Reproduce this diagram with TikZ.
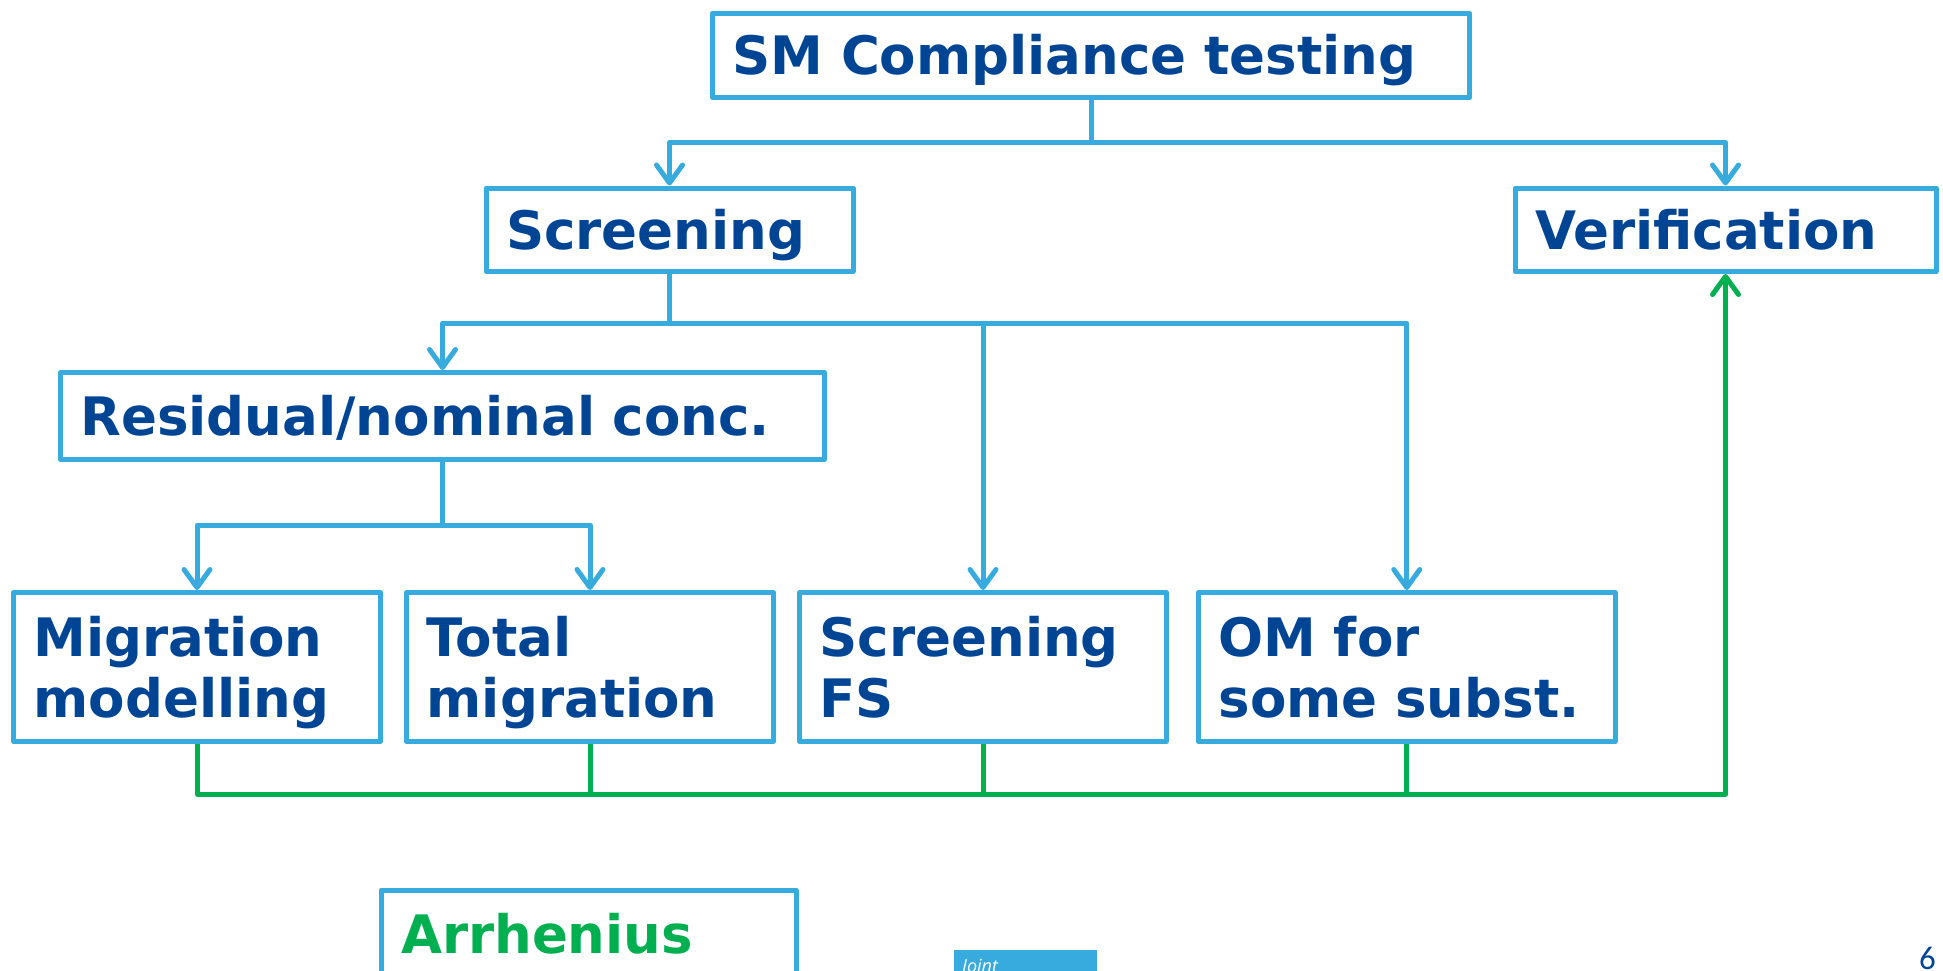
\documentclass[tikz,border=0pt]{standalone}
\usepackage{fontspec}
\setmainfont{DejaVu Sans}
\newfontfamily\numfont{Carlito}
\newfontfamily\jointfont{Open Sans}
\usetikzlibrary{arrows.meta}
\definecolor{boxblue}{HTML}{38ABDE}
\definecolor{textblue}{HTML}{004494}
\definecolor{flowgreen}{HTML}{00B050}
\begin{document}
\begin{tikzpicture}[x=1pt,y=-1pt,
  box/.style={draw=boxblue, line width=5pt, line join=round, rectangle,
    inner xsep=20pt, inner ysep=0pt, align=left, text=textblue,
    font=\fontsize{53}{61}\selectfont\bfseries,
    text height=39pt, text depth=-5pt},
  twoline/.style={text depth=61pt},
  barb/.style={-{Straight Barb[length=18pt,width=26pt,line cap=round,line join=round]}},
  blueline/.style={draw=boxblue, line width=5pt, line join=round, barb},
  plainblue/.style={draw=boxblue, line width=5pt, line join=round},
  greenline/.style={draw=flowgreen, line width=5pt, line join=round},
]
\useasboundingbox (0,0) rectangle (1943,971);
\clip (0,0) rectangle (1943,971);

% boxes
\node[box, text width=717pt, minimum height=84.5pt] (sm) at (1091,55.5) {SM Compliance testing};
\node[box, text width=327pt, minimum height=83.5pt] (scr) at (669.5,229.75) {Screening};
\node[box, text width=381pt, minimum height=83.5pt] (ver) at (1725.5,229.75) {Verification};
\node[box, text width=724pt, minimum height=87pt] (res) at (442.5,416) {Residual/nominal conc.};
\node[box, twoline, text width=326.5pt, minimum height=149pt] (mig) at (197,667) {Migration\\modelling};
\node[box, twoline, text width=326.5pt, minimum height=149pt] (tot) at (590,667) {Total\\migration};
\node[box, twoline, text width=326.5pt, minimum height=149pt] (sfs) at (983,667) {Screening\\FS};
\node[box, twoline, text width=376.5pt, minimum height=149pt] (om) at (1406.75,667) {OM for\\some subst.};
\node[box, twoline, text width=375pt, minimum height=149pt, text=flowgreen] (arr) at (588.5,964.5) {Arrhenius};

% level coordinates
\coordinate (h1) at (0,142.5);
\coordinate (h2) at (0,323);
\coordinate (h3) at (0,525);
\coordinate (hg) at (0,794);

% blue connectors
\draw[plainblue] (sm.south) -- (sm.south |- h1);
\draw[blueline] (sm.south |- h1) -| (scr.north);
\draw[blueline] (sm.south |- h1) -| (ver.north);

\draw[plainblue] (scr.south) -- (scr.south |- h2);
\draw[blueline] (scr.south |- h2) -| (res.north);
\draw[blueline] (scr.south |- h2) -| (om.north);
\draw[blueline] (sfs.north |- h2) -- (sfs.north);

\draw[plainblue] (res.south) -- (res.south |- h3);
\draw[blueline] (res.south |- h3) -| (mig.north);
\draw[blueline] (res.south |- h3) -| (tot.north);

% green connectors
\draw[greenline, barb] (mig.south) -- (mig.south |- hg) -- (ver.south |- hg) -- (ver.south);
\draw[greenline] (tot.south) -- (tot.south |- hg);
\draw[greenline] (sfs.south) -- (sfs.south |- hg);
\draw[greenline] (om.south) -- (om.south |- hg);

% footer
\fill[boxblue] (954,950) rectangle (1097,1000);
\node[anchor=base west, inner sep=0pt, text=white, font=\jointfont\itshape\fontsize{18}{18}\selectfont] (jointtxt) at (962,972) {Joint};
\node[anchor=base east, inner sep=0pt, text=textblue, font=\numfont\fontsize{33}{33}\selectfont] (pagenum) at (1936,969) {6};
\end{tikzpicture}
\end{document}
